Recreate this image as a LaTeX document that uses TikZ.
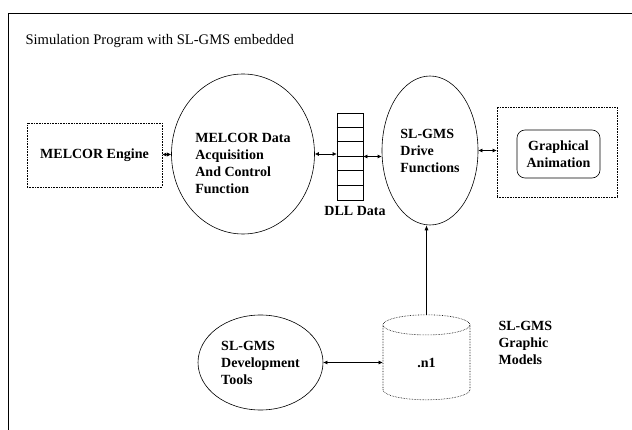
\documentclass[tikz,border=0pt]{standalone}
\usepackage{fontspec}
\setmainfont{Liberation Serif}
\usetikzlibrary{shapes.geometric,arrows.meta,positioning}

\tikzset{
    box/.style={draw, densely dotted, semithick, inner sep=0pt},
    oval/.style={draw, ellipse, semithick, inner sep=0pt, align=left},
    link/.style={{Latex[length=4pt,width=4pt]}-{Latex[length=4pt,width=4pt]}, semithick},
    feed/.style={-{Latex[length=5pt,width=4pt]}, semithick}
}

\begin{document}
\begin{tikzpicture}[x=1pt, y=-1pt, font=\fontsize{14}{17}\selectfont\bfseries]
    \useasboundingbox (0,0) rectangle (632,430);
    \draw[semithick] (8,430) -- (8,13) -- (632,13);
    \node[anchor=west, font=\fontsize{14.6}{17}\selectfont] (title) at (22,41) {Simulation Program with SL-GMS embedded};

    % top row
    \node[box, minimum width=135, minimum height=64] (engine) at (94.5,155) {MELCOR Engine};
    \node[oval, minimum width=143, minimum height=160,
        label={[align=left, yshift=-9pt]center:MELCOR Data\\Acquisition\\And Control\\Function}] (acq) at (243,154) {};
    \node[draw, semithick, inner sep=0pt, minimum width=26, minimum height=87] (dll) at (350,156.5) {};
    \foreach \k in {1,...,5}
        \draw ([yshift=-\k*14.5pt]dll.north west) -- ([yshift=-\k*14.5pt]dll.north east);
    \node[below=3pt of dll, xshift=5pt] (dlllabel) {DLL Data};
    \node[oval, minimum width=96, minimum height=149] (drive) at (430,150.5) {SL-GMS\\Drive\\Functions};
    \node[box, minimum width=120, minimum height=90] (anim) at (557,152) {};
    \node[draw, semithick, rounded corners=8pt, minimum width=83, minimum height=48, align=center] (gfx) at (558.5,154) {Graphical\\Animation};

    % bottom row
    \node[oval, minimum width=125, minimum height=95] (tools) at (260.5,362.5) {SL-GMS\\Development\\Tools};
    \node[cylinder, shape border rotate=90, aspect=1.1, box, minimum width=87, minimum height=85] (nl) at (426.5,362.5) {.n1};
    \node[anchor=north west, align=left] (models) at (495,318) {SL-GMS\\Graphic\\Models};

    % connectors
    \draw[link] (engine) -- (acq);
    \draw[link] (acq.east) -- (acq.east -| dll.west);
    \draw[link] (dll.east) -- (dll.east -| drive.west);
    \draw[link] (drive.east) -- (drive.east -| anim.west);
    \draw[link] (tools.east) -- (tools.east -| nl.west);
    \draw[feed] (nl.north) -- (nl.north |- drive.south);
\end{tikzpicture}
\end{document}
